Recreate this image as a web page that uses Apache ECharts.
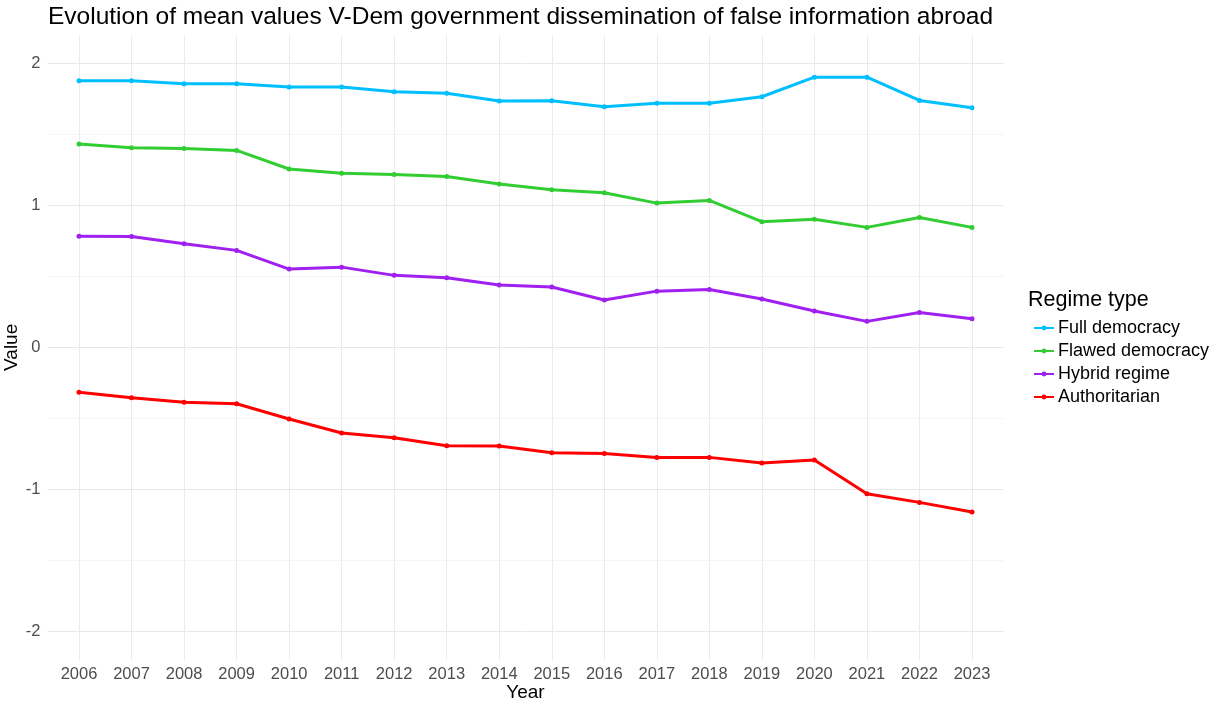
<!DOCTYPE html>
<html>
<head>
<meta charset="utf-8">
<script src="https://cdn.jsdelivr.net/npm/echarts@6/dist/echarts.min.js"></script>
<style>
  html, body { margin: 0; padding: 0; background: #fff; }
  #chart { width: 1212px; height: 702px; }
</style>
</head>
<body>
<div id="chart"></div>
<script>
// years on the x axis
var years = [2006, 2007, 2008, 2009, 2010, 2011, 2012, 2013, 2014, 2015, 2016, 2017, 2018, 2019, 2020, 2021, 2022, 2023];

// mean values per regime type
var fullDemocracy = [1.877, 1.877, 1.856, 1.856, 1.833, 1.833, 1.800, 1.790, 1.735, 1.737, 1.694, 1.720, 1.720, 1.765, 1.903, 1.903, 1.739, 1.687];
var flawedDemocracy = [1.432, 1.406, 1.401, 1.387, 1.256, 1.227, 1.218, 1.204, 1.150, 1.110, 1.089, 1.016, 1.035, 0.885, 0.903, 0.845, 0.915, 0.845];
var hybridRegime = [0.782, 0.780, 0.730, 0.683, 0.551, 0.565, 0.507, 0.490, 0.439, 0.425, 0.333, 0.396, 0.408, 0.340, 0.256, 0.183, 0.246, 0.201];
var authoritarian = [-0.317, -0.355, -0.387, -0.397, -0.505, -0.603, -0.636, -0.693, -0.695, -0.742, -0.747, -0.775, -0.775, -0.815, -0.794, -1.031, -1.092, -1.160];

var seriesNames = ['Full democracy', 'Flawed democracy', 'Hybrid regime', 'Authoritarian'];
var seriesData = [fullDemocracy, flawedDemocracy, hybridRegime, authoritarian];
var seriesColors = ['#00BFFF', '#32CD32', '#A020F0', '#FF0000'];

var font = 'Liberation Sans, Arial, sans-serif';

function pairs(values) {
    return values.map(function (v, i) { return [years[i], v]; });
}

var myChart = echarts.init(document.getElementById('chart'));

var series = seriesNames.map(function (name, i) {
    return {
        name: name,
        type: 'line',
        data: pairs(seriesData[i]),
        symbol: 'circle',
        symbolSize: 5,
        color: seriesColors[i],
        lineStyle: { width: 3 },
        emphasis: { disabled: true },
        z: 3
    };
});

var option = {
    backgroundColor: '#fff',
    animation: false,
    textStyle: { fontFamily: font },
    title: [
        {
            text: 'Evolution of mean values V-Dem government dissemination of false information abroad',
            left: 43,
            top: 0,
            textStyle: { fontFamily: font, fontWeight: 'normal', fontSize: 24.5, color: '#000' }
        },
        {
            text: 'Regime type',
            left: 1023,
            top: 284,
            textStyle: { fontFamily: font, fontWeight: 'normal', fontSize: 21.5, color: '#000' }
        }
    ],
    legend: {
        orient: 'vertical',
        left: 1028,
        top: 314,
        itemGap: 5,
        itemWidth: 20,
        itemHeight: 6,
        data: seriesNames,
        lineStyle: { width: 2 },
        textStyle: { fontFamily: font, fontSize: 18, color: '#000', padding: [0, 0, 0, -1] }
    },
    grid: {
        left: 47.5,
        right: 208.5,
        top: 35,
        bottom: 42.3,
        outerBoundsMode: 'none',
        containLabel: false
    },
    xAxis: {
        type: 'value',
        min: 2005.4,
        max: 2023.6,
        minInterval: 1,
        maxInterval: 1,
        name: 'Year',
        nameLocation: 'middle',
        nameGap: 24,
        nameMoveOverlap: false,
        nameTextStyle: { fontFamily: font, fontSize: 19, color: '#000' },
        axisLine: { show: false },
        axisTick: { show: false },
        axisLabel: {
            margin: 6,
            fontSize: 16.5,
            color: '#4d4d4d',
            showMinLabel: false,
            showMaxLabel: false,
            formatter: function (v) { return Number.isInteger(v) ? String(v) : ''; }
        },
        splitLine: {
            show: true,
            showMinLine: false,
            showMaxLine: false,
            lineStyle: { color: '#ebebeb', width: 1 }
        }
    },
    yAxis: {
        type: 'value',
        min: -2.2,
        max: 2.2,
        minInterval: 0.5,
        maxInterval: 0.5,
        name: 'Value',
        nameLocation: 'middle',
        nameGap: 26,
        nameMoveOverlap: false,
        nameTextStyle: { fontFamily: font, fontSize: 19, color: '#000' },
        axisLine: { show: false },
        axisTick: { show: false },
        axisLabel: {
            margin: 7,
            fontSize: 16.5,
            color: '#4d4d4d',
            showMinLabel: false,
            showMaxLabel: false,
            formatter: function (v) { return Number.isInteger(v) ? String(v) : ''; }
        },
        splitLine: {
            show: true,
            showMinLine: false,
            showMaxLine: false,
            lineStyle: { color: ['#e8e8e8', '#f5f5f5'], width: 1 }
        }
    },
    series: series
};

myChart.setOption(option);
</script>
</body>
</html>
